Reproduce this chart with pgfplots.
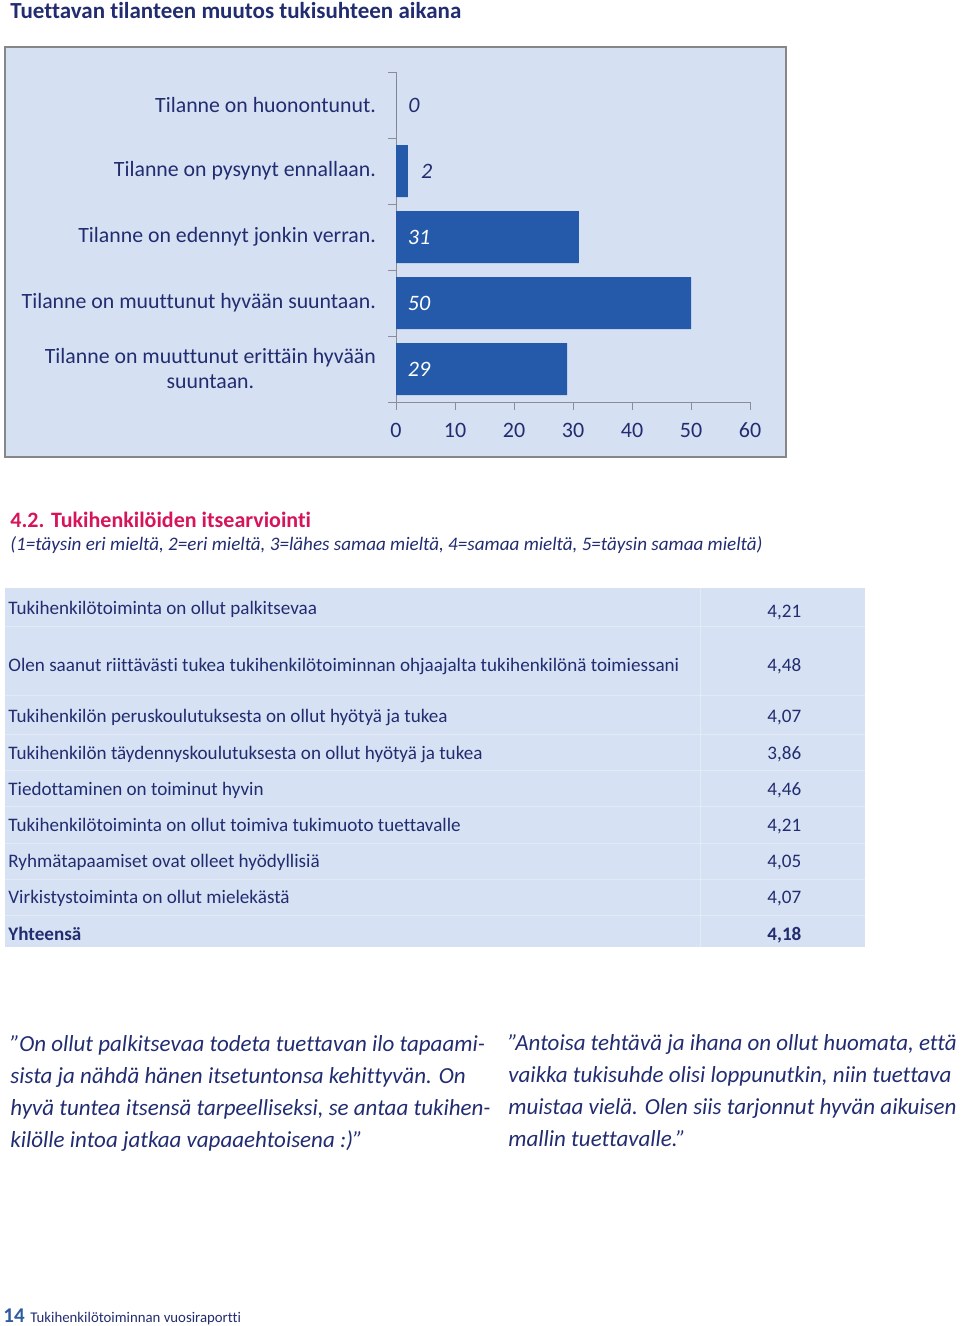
\documentclass[border=0pt]{standalone}
\usepackage{pgfplots}
\pgfplotsset{compat=1.18}
\usepackage{fontspec}
\setmainfont[Ligatures=NoCommon]{Carlito}
\definecolor{navy}{RGB}{34,44,112}
\definecolor{crimson}{RGB}{214,20,90}
\definecolor{chartbg}{RGB}{213,225,242}
\definecolor{tablebg}{RGB}{214,226,243}
\definecolor{barblue}{RGB}{37,90,171}
\definecolor{framegray}{RGB}{135,135,135}
\definecolor{axisgray}{RGB}{140,140,150}
\definecolor{pageblue}{RGB}{46,92,158}
\begin{document}
\begin{tikzpicture}[x=0.5pt,y=-0.5pt]
\path[use as bounding box] (0,0) rectangle (960,1326);

% heading
\node[anchor=base west,inner sep=0,text=navy,font=\bfseries\fontsize{11.5}{14}\selectfont] at (10,19) {Tuettavan tilanteen muutos tukisuhteen aikana};

% chart frame
\draw[framegray,line width=1pt,fill=chartbg] (5,47) rectangle (786,457);

\begin{axis}[
  at={(198pt,-201pt)}, anchor=south west,
  scale only axis, width=177pt, height=165pt,
  xmin=0, xmax=60, ymin=-0.5, ymax=4.5,
  axis x line*=bottom, axis y line*=left,
  axis line style={draw=axisgray},
  clip=false,
  tick align=outside,
  major tick length=4pt, minor tick length=4pt,
  xtick={0,10,...,60},
  ytick={0,...,4},
  minor ytick={-0.5,0.5,...,4.5},
  major y tick style={draw=none},
  minor y tick style={draw=axisgray},
  major x tick style={draw=axisgray},
  yticklabels={{Tilanne on muuttunut erittäin hyvään\\suuntaan.},
    {Tilanne on muuttunut hyvään suuntaan.},
    {Tilanne on edennyt jonkin verran.},
    {Tilanne on pysynyt ennallaan.},
    {Tilanne on huonontunut.}},
  yticklabel style={align=center,text=navy,xshift=-2.5pt,font=\fontsize{10.9}{12.5}\selectfont},
  xticklabel style={text=navy,yshift=-3pt,font=\fontsize{11}{13}\selectfont},
  /pgf/number format/assume math mode=true,
]
\addplot[xbar, fill=barblue, draw=none, bar width=26pt] coordinates {
  (29,0) (50,1) (31,2) (2,3) (0,4)
};
% value labels, white inside the long bars
\addplot[draw=none, mark=none, nodes near coords, point meta=explicit symbolic,
  nodes near coords style={anchor=center,text=white,font=\itshape\fontsize{11}{13}\selectfont}]
  coordinates {(3.9,0)[29] (3.9,1)[50] (3.9,2)[31]};
% value labels, dark beside the short bars
\addplot[draw=none, mark=none, nodes near coords, point meta=explicit symbolic,
  nodes near coords style={anchor=center,text=navy,font=\itshape\fontsize{11}{13}\selectfont}]
  coordinates {(5.2,3)[2] (3.05,4)[0]};
\end{axis}

% section 4.2
\node[anchor=base west,inner sep=0,text=crimson,font=\bfseries\fontsize{11}{13}\selectfont] at (10,527) {4.2. Tukihenkilöiden itsearviointi};
\node[anchor=base west,inner sep=0,text=navy,font=\itshape\fontsize{9.55}{11}\selectfont] at (10,550) {(1=täysin eri mieltä, 2=eri mieltä, 3=lähes samaa mieltä, 4=samaa mieltä, 5=täysin samaa mieltä)};

% table
\fill[tablebg] (5,588) rectangle (865,947);
\draw[white,opacity=0.3,line width=0.5pt] (700,588) -- (700,947);
\foreach \yy in {626,695,734,770,806,843,879,915}
  \draw[white,opacity=0.3,line width=0.5pt] (5,\yy) -- (865,\yy);
\begin{scope}[every node/.style={anchor=base west,inner sep=0,text=navy,font=\fontsize{9.55}{11}\selectfont}]
\node at (8,614) {Tukihenkilötoiminta on ollut palkitsevaa};
\node at (8,671) {Olen saanut riittävästi tukea tukihenkilötoiminnan ohjaajalta tukihenkilönä toimiessani};
\node at (8,722) {Tukihenkilön peruskoulutuksesta on ollut hyötyä ja tukea};
\node at (8,759) {Tukihenkilön täydennyskoulutuksesta on ollut hyötyä ja tukea};
\node at (8,795) {Tiedottaminen on toiminut hyvin};
\node at (8,831) {Tukihenkilötoiminta on ollut toimiva tukimuoto tuettavalle};
\node at (8,867) {Ryhmätapaamiset ovat olleet hyödyllisiä};
\node at (8,903) {Virkistystoiminta on ollut mielekästä};
\node[font=\bfseries\fontsize{9.55}{11}\selectfont] at (8,940) {Yhteensä};
\node at (767,617) {4,21};
\node at (767,671) {4,48};
\node at (767,722) {4,07};
\node at (767,759) {3,86};
\node at (767,795) {4,46};
\node at (767,831) {4,21};
\node at (767,867) {4,05};
\node at (767,903) {4,07};
\node[font=\bfseries\fontsize{9.55}{11}\selectfont] at (767,940) {4,18};
\end{scope}

% quotes
\begin{scope}[every node/.style={anchor=base west,inner sep=0,text=navy,font=\itshape\fontsize{11.5}{14}\selectfont}]
\node at (10,1051) {”On ollut palkitsevaa todeta tuettavan ilo tapaami-};
\node at (10,1083) {sista ja nähdä hänen itsetuntonsa kehittyvän. On};
\node at (10,1115) {hyvä tuntea itsensä tarpeelliseksi, se antaa tukihen-};
\node at (10,1147) {kilölle intoa jatkaa vapaaehtoisena :)”};
\node at (508,1050) {”Antoisa tehtävä ja ihana on ollut huomata, että};
\node at (508,1082) {vaikka tukisuhde olisi loppunutkin, niin tuettava};
\node at (508,1114) {muistaa vielä. Olen siis tarjonnut hyvän aikuisen};
\node at (508,1146) {mallin tuettavalle.”};
\end{scope}

% footer
\node[anchor=base west,inner sep=0,text=pageblue,font=\bfseries\fontsize{10.5}{12}\selectfont] at (3,1322) {14};
\node[anchor=base west,inner sep=0,text=navy,font=\fontsize{7.4}{9}\selectfont] at (30,1322) {Tukihenkilötoiminnan vuosiraportti};
\end{tikzpicture}
\end{document}
